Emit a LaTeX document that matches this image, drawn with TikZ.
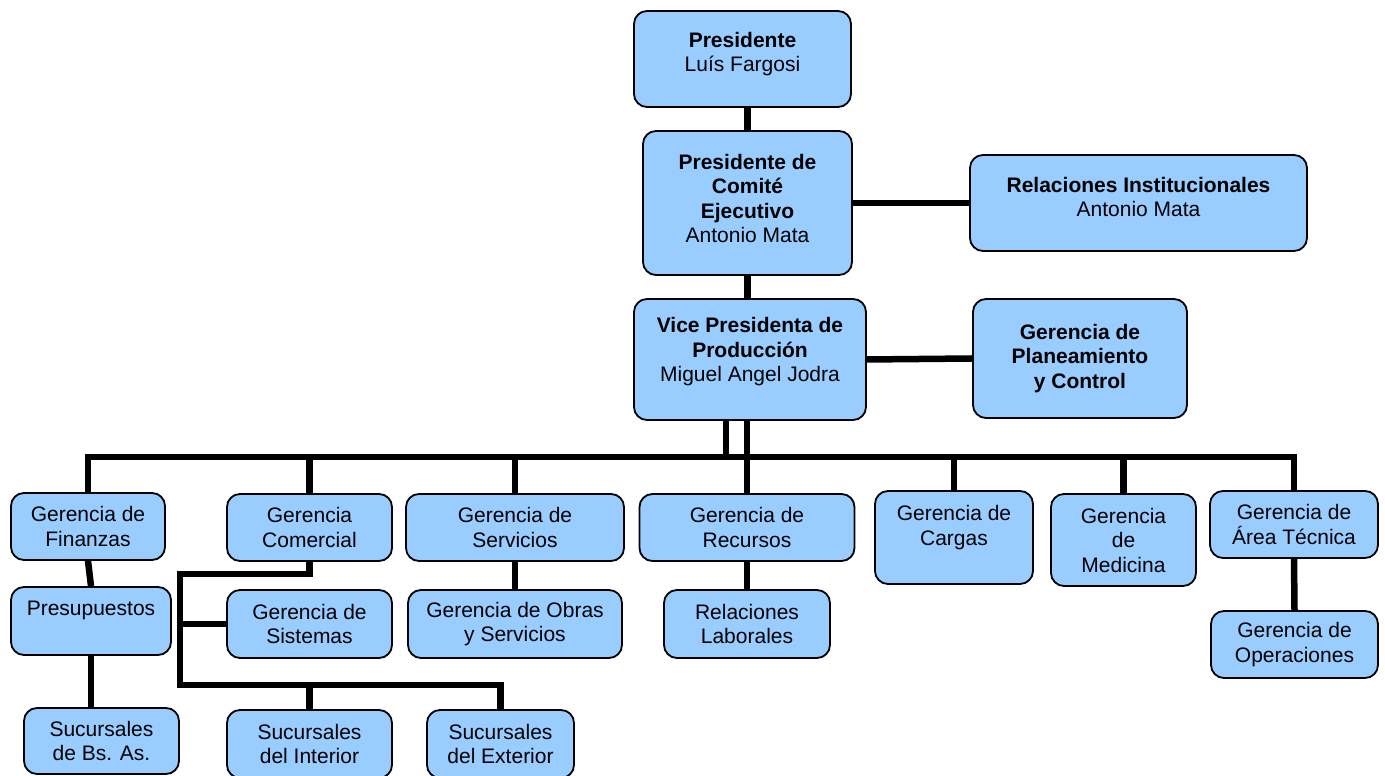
\documentclass[tikz,border=0pt]{standalone}
\usepackage{fontspec}
\setmainfont{Liberation Sans}
\usepackage{tikz}
\usepackage{xcolor}
\definecolor{boxblue}{HTML}{99CCFF}

\begin{document}
\begin{tikzpicture}[
  x=1pt, y=1pt,
  box/.style={draw=black, line width=1.8pt, rounded corners=13pt, fill=boxblue, align=center,
              inner sep=2pt, font=\fontsize{21}{24.5}\selectfont},
  conn/.style={line width=6.5pt, black}
]
  \useasboundingbox (0,0) rectangle (1385,776);

  \node[box, minimum width=217, minimum height=96, text depth=14pt] (pres) at (742.5,717) {\textbf{Presidente}\\Luís Fargosi};
  \node[box, minimum width=209, minimum height=144, text depth=9pt] (comite) at (747.5,573) {\textbf{Presidente de}\\\textbf{Comité}\\\textbf{Ejecutivo}\\Antonio Mata};
  \node[box, minimum width=337, minimum height=96, text depth=12pt] (relinst) at (1138.5,573) {\textbf{Relaciones Institucionales}\\Antonio Mata};
  \node[box, minimum width=232, minimum height=121, text depth=20pt] (vice) at (750,416.5) {\textbf{Vice Presidenta de}\\\textbf{Producción}\\Miguel Angel Jodra};
  \node[box, minimum width=214, minimum height=119] (planea) at (1080,417.5) {\textbf{Gerencia de}\\\textbf{Planeamiento}\\\textbf{y Control}};

  \node[box, minimum width=154, minimum height=67] (finanzas) at (88,249.5) {Gerencia de\\Finanzas};
  \node[box, minimum width=165, minimum height=67] (comercial) at (309.5,248.5) {Gerencia\\Comercial};
  \node[box, minimum width=218, minimum height=67] (servicios) at (515,248.5) {Gerencia de\\Servicios};
  \node[box, minimum width=215, minimum height=67] (recursos) at (747,248.5) {Gerencia de\\Recursos};
  \node[box, minimum width=158, minimum height=93] (cargas) at (954,238.5) {Gerencia de\\Cargas\\~};
  \node[box, minimum width=145, minimum height=92] (medicina) at (1123.5,236) {Gerencia\\de\\Medicina};
  \node[box, minimum width=168, minimum height=67] (tecnica) at (1294,251.5) {Gerencia de\\Área Técnica};

  \node[box, minimum width=160, minimum height=68] (presupu) at (91,155) {Presupuestos\\~};
  \node[box, minimum width=165, minimum height=68] (sistemas) at (309.5,152) {Gerencia de\\Sistemas};
  \node[box, minimum width=214, minimum height=68] (obras) at (515,152) {Gerencia de Obras\\y Servicios};
  \node[box, minimum width=166, minimum height=68] (rellab) at (747,152) {Relaciones\\Laborales};
  \node[box, minimum width=167, minimum height=67] (operac) at (1294.5,131.5) {Gerencia de\\Operaciones};

  \node[box, minimum width=155, minimum height=66] (sucbsas) at (101.5,35) {Sucursales\\de Bs. As.};
  \node[box, minimum width=165, minimum height=68] (sucint) at (309.5,32) {Sucursales\\del Interior};
  \node[box, minimum width=147, minimum height=68] (sucext) at (500.5,32) {Sucursales\\del Exterior};

  \coordinate (bus) at (746,319);
  \coordinate (sucbus) at (180,91);

  \draw[conn] (comite.north) -- (comite.north |- pres.south);
  \draw[conn] (comite.east) -- (relinst.west);
  \draw[conn] (comite.south) -- (comite.south |- vice.north);
  \draw[conn] (vice.east) -- (planea.west);
  \draw[conn] ([xshift=-24pt]vice.south) -- ([xshift=-24pt]vice.south |- bus);
  \draw[conn] (recursos.north) -- (recursos.north |- vice.south);
  \draw[conn] (finanzas.north) |- (bus) -| (tecnica.north);
  \draw[conn] (comercial.north) -- (comercial.north |- bus);
  \draw[conn] (servicios.north) -- (servicios.north |- bus);
  \draw[conn] (cargas.north) -- (cargas.north |- bus);
  \draw[conn] (medicina.north) -- (medicina.north |- bus);

  \draw[conn] (finanzas.south) -- (presupu.north);
  \draw[conn] (presupu.south) -- (presupu.south |- sucbsas.north);
  \draw[conn] (comercial.south) -- ++(0,-12) -| (sucbus) -| (sucext.north);
  \draw[conn] (sistemas.west) -- (sistemas.west -| sucbus);
  \draw[conn] (sucint.north) -- (sucint.north |- sucbus);
  \draw[conn] (servicios.south) -- (obras.north);
  \draw[conn] (recursos.south) -- (rellab.north);
  \draw[conn] (tecnica.south) -- (operac.north);
\end{tikzpicture}
\end{document}
